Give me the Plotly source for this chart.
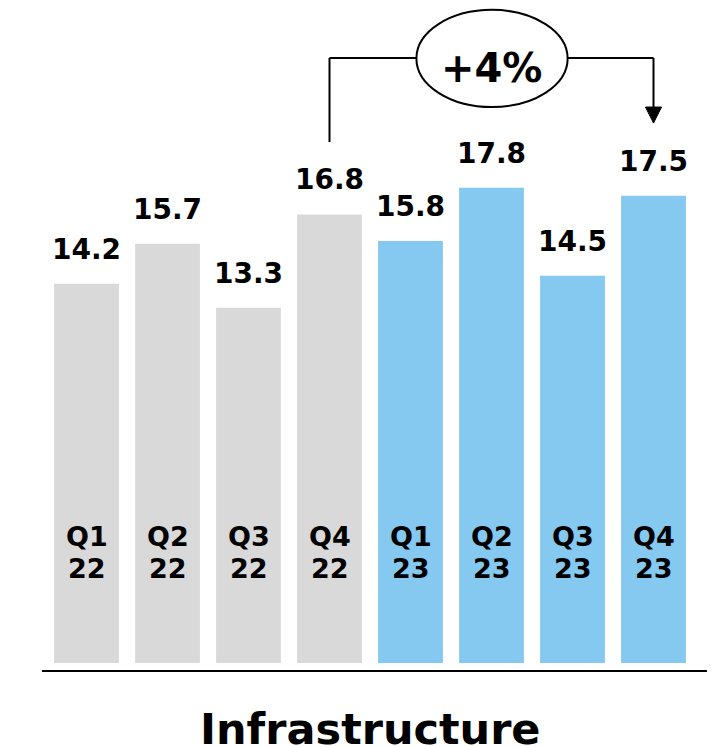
import plotly.graph_objects as go

quarters = ["Q1", "Q2", "Q3", "Q4", "Q1", "Q2", "Q3", "Q4"]
years = ["22", "22", "22", "22", "23", "23", "23", "23"]
values = [14.2, 15.7, 13.3, 16.8, 15.8, 17.8, 14.5, 17.5]
colors = ["#D9D9D9"] * 4 + ["#85C8F0"] * 4
title_text = "Infrastructure"
growth_text = "+4%"
growth_from = 3
growth_to = 7

FONT = "DejaVu Sans"
x = list(range(len(values)))

fig = go.Figure()
fig.add_trace(go.Bar(x=x, y=values, marker=dict(color=colors, line=dict(width=0)),
                     hoverinfo="skip"))

annotations = []
for i, v in enumerate(values):
    annotations.append(dict(x=i, y=v, text=f"<b>{v:.1f}</b>", showarrow=False,
                            yanchor="bottom", yshift=16,
                            font=dict(family=FONT, size=28, color="black")))
    annotations.append(dict(x=i, y=4.72, text=f"<b>{quarters[i]}</b>", showarrow=False,
                            yanchor="middle",
                            font=dict(family=FONT, size=27, color="black")))
    annotations.append(dict(x=i, y=3.54, text=f"<b>{years[i]}</b>", showarrow=False,
                            yanchor="middle",
                            font=dict(family=FONT, size=27, color="black")))

annotations.append(dict(x=0.5, xref="paper", y=0, yref="paper", yanchor="top", yshift=-39,
                        text=f"<b>{title_text}</b>", showarrow=False,
                        font=dict(family=FONT, size=43, color="black")))
annotations.append(dict(x=(growth_from + growth_to) / 2, y=22.3, text=f"<b>{growth_text}</b>",
                        showarrow=False, yanchor="middle",
                        font=dict(family=FONT, size=40, color="black")))

top_y = 22.66
shapes = [
    dict(type="line", x0=growth_from, x1=growth_from, y0=19.51, y1=top_y,
         line=dict(color="black", width=2)),
    dict(type="line", x0=growth_from, x1=growth_to, y0=top_y, y1=top_y,
         line=dict(color="black", width=2)),
    dict(type="line", x0=growth_to, x1=growth_to, y0=top_y, y1=20.7,
         line=dict(color="black", width=2)),
    dict(type="path",
         path=f"M {growth_to-0.099},20.82 L {growth_to+0.099},20.82 L {growth_to},20.22 Z",
         fillcolor="black", line=dict(color="black", width=1)),
    dict(type="circle", x0=4.073, x1=5.94, y0=20.82, y1=24.46,
         fillcolor="white", line=dict(color="black", width=2)),
    dict(type="line", xref="paper", yref="paper", x0=-4 / 648.5, x1=669 / 648.5,
         y0=-8 / 655, y1=-8 / 655, line=dict(color="black", width=2)),
]

fig.update_layout(
    width=707, height=739,
    margin=dict(l=38, r=20.5, t=0, b=84),
    paper_bgcolor="white", plot_bgcolor="white",
    bargap=0.2, showlegend=False,
    xaxis=dict(visible=False, range=[-0.5, 7.5]),
    yaxis=dict(visible=False, range=[0, 24.53]),
    annotations=annotations, shapes=shapes,
)
fig.write_html("out.html")
